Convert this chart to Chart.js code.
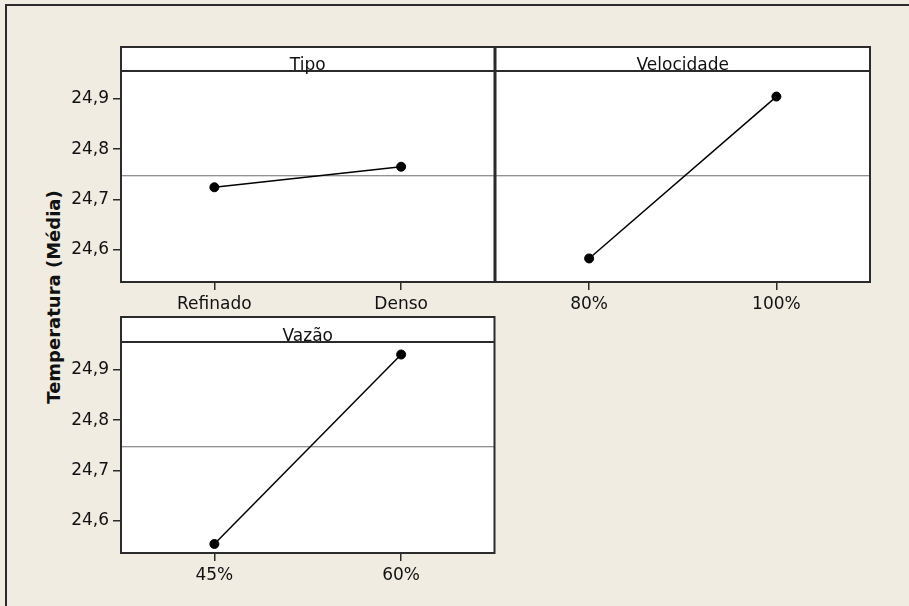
<!DOCTYPE html>
<html>
<head>
<meta charset="utf-8">
<title>Efeitos principais - Temperatura</title>
<script src="https://cdn.jsdelivr.net/npm/chart.js@4/dist/chart.umd.min.js"></script>
<style>
  html, body { margin: 0; overflow: hidden; }
  body { background: #F0ECE2; width: 909px; height: 606px; position: relative; }
  .edge { position: absolute; background: #2b2b2b; }
  #edgeTop { left: 5px; top: 4px; width: 904px; height: 2px; }
  #edgeLeft { left: 5px; top: 4px; width: 2px; height: 602px; }
  canvas { position: absolute; }
  #ytitle { position: absolute; left: 53px; top: 297px; transform: translate(-50%, -50%) rotate(-90deg);
            font: bold 18px "DejaVu Sans"; color: #111; white-space: nowrap; }
</style>
</head>
<body>
<div class="edge" id="edgeTop"></div>
<div class="edge" id="edgeLeft"></div>
<div id="ytitle">Temperatura (Média)</div>
<canvas id="tipo" width="500" height="270" style="left:0px;top:40px"></canvas>
<canvas id="velocidade" width="400" height="270" style="left:490px;top:40px"></canvas>
<canvas id="vazao" width="500" height="270" style="left:0px;top:310px"></canvas>
<script>
// Main effects for Temperatura (means per factor level)
const tipoLevels = ['Refinado', 'Denso'];
const tipoMeans = [24.724, 24.765];

const velocidadeLevels = ['80%', '100%'];
const velocidadeMeans = [24.582, 24.905];

const vazaoLevels = ['45%', '60%'];
const vazaoMeans = [24.553, 24.931];

const grandMean = 24.747;
const yTicks = [24.6, 24.7, 24.8, 24.9];
const yMin = 24.535, yMax = 24.956;

const FONT = { family: 'DejaVu Sans', size: 17 };
const INK = '#2b2b2b';

// white panel, strip on top with factor name, grand mean reference line
const panelPlugin = {
  id: 'panel',
  beforeDraw(chart, args, opts) {
    const { ctx, chartArea: a } = chart;
    ctx.save();
    ctx.fillStyle = '#fff';
    ctx.fillRect(a.left, a.top - opts.strip, a.right - a.left, a.bottom - a.top + opts.strip);
    const y = chart.scales.y.getPixelForValue(grandMean);
    ctx.strokeStyle = '#6e6e6e';
    ctx.lineWidth = 1.2;
    ctx.beginPath();
    ctx.moveTo(a.left, y);
    ctx.lineTo(a.right, y);
    ctx.stroke();
    ctx.restore();
  },
  afterDraw(chart, args, opts) {
    const { ctx, chartArea: a } = chart;
    ctx.save();
    ctx.strokeStyle = INK;
    ctx.lineWidth = 2;
    ctx.strokeRect(a.left, a.top - opts.strip, a.right - a.left, a.bottom - a.top + opts.strip);
    ctx.beginPath();
    ctx.moveTo(a.left, a.top);
    ctx.lineTo(a.right, a.top);
    ctx.stroke();
    ctx.fillStyle = '#111';
    ctx.font = FONT.size + 'px "' + FONT.family + '"';
    ctx.textAlign = 'center';
    ctx.textBaseline = 'alphabetic';
    ctx.fillText(opts.text, (a.left + a.right) / 2, a.top - 1);
    ctx.restore();
  }
};

function makePanel(id, title, levels, means, cfg) {
  const ctx = document.getElementById(id).getContext('2d');
  return new Chart(ctx, {
    type: 'line',
    data: {
      datasets: [{
        data: means.map((v, i) => ({ x: i, y: v })),
        borderColor: '#000',
        borderWidth: 1.5,
        pointRadius: 4.5,
        pointBackgroundColor: '#000',
        pointBorderColor: '#000',
        pointBorderWidth: 1,
        tension: 0
      }]
    },
    options: {
      responsive: false,
      animation: false,
      layout: { padding: cfg.padding },
      plugins: {
        legend: { display: false },
        tooltip: { enabled: false },
        panel: { text: title, strip: cfg.strip }
      },
      scales: {
        x: {
          type: 'linear',
          min: -0.5, max: 1.5,
          afterBuildTicks: s => { s.ticks = levels.map((_, i) => ({ value: i })); },
          afterFit: s => { s.height = cfg.xHeight; },
          ticks: {
            callback: v => levels[v],
            color: '#111', font: FONT, padding: 4, maxRotation: 0
          },
          grid: { drawOnChartArea: false, drawTicks: true, tickLength: 8, color: INK, lineWidth: 1.5 },
          border: { display: false }
        },
        y: {
          display: cfg.showY,
          min: yMin, max: yMax,
          afterBuildTicks: s => { s.ticks = yTicks.map(v => ({ value: v })); },
          afterFit: s => { s.width = cfg.yWidth; },
          ticks: {
            callback: v => v.toFixed(1).replace('.', ','),
            color: '#111', font: FONT, padding: 4
          },
          grid: { drawOnChartArea: false, drawTicks: true, tickLength: 8, color: INK, lineWidth: 1.5 },
          border: { display: false }
        }
      }
    },
    plugins: [panelPlugin]
  });
}

makePanel('tipo', 'Tipo', tipoLevels, tipoMeans,
  { padding: { top: 31, right: 5, left: 0, bottom: 0 }, strip: 24, xHeight: 28, yWidth: 121, showY: true });
makePanel('velocidade', 'Velocidade', velocidadeLevels, velocidadeMeans,
  { padding: { top: 31, right: 20, left: 5, bottom: 0 }, strip: 24, xHeight: 28, yWidth: 0, showY: false });
makePanel('vazao', 'Vazão', vazaoLevels, vazaoMeans,
  { padding: { top: 32, right: 5, left: 0, bottom: 0 }, strip: 25, xHeight: 27, yWidth: 121, showY: true });
</script>
</body>
</html>
